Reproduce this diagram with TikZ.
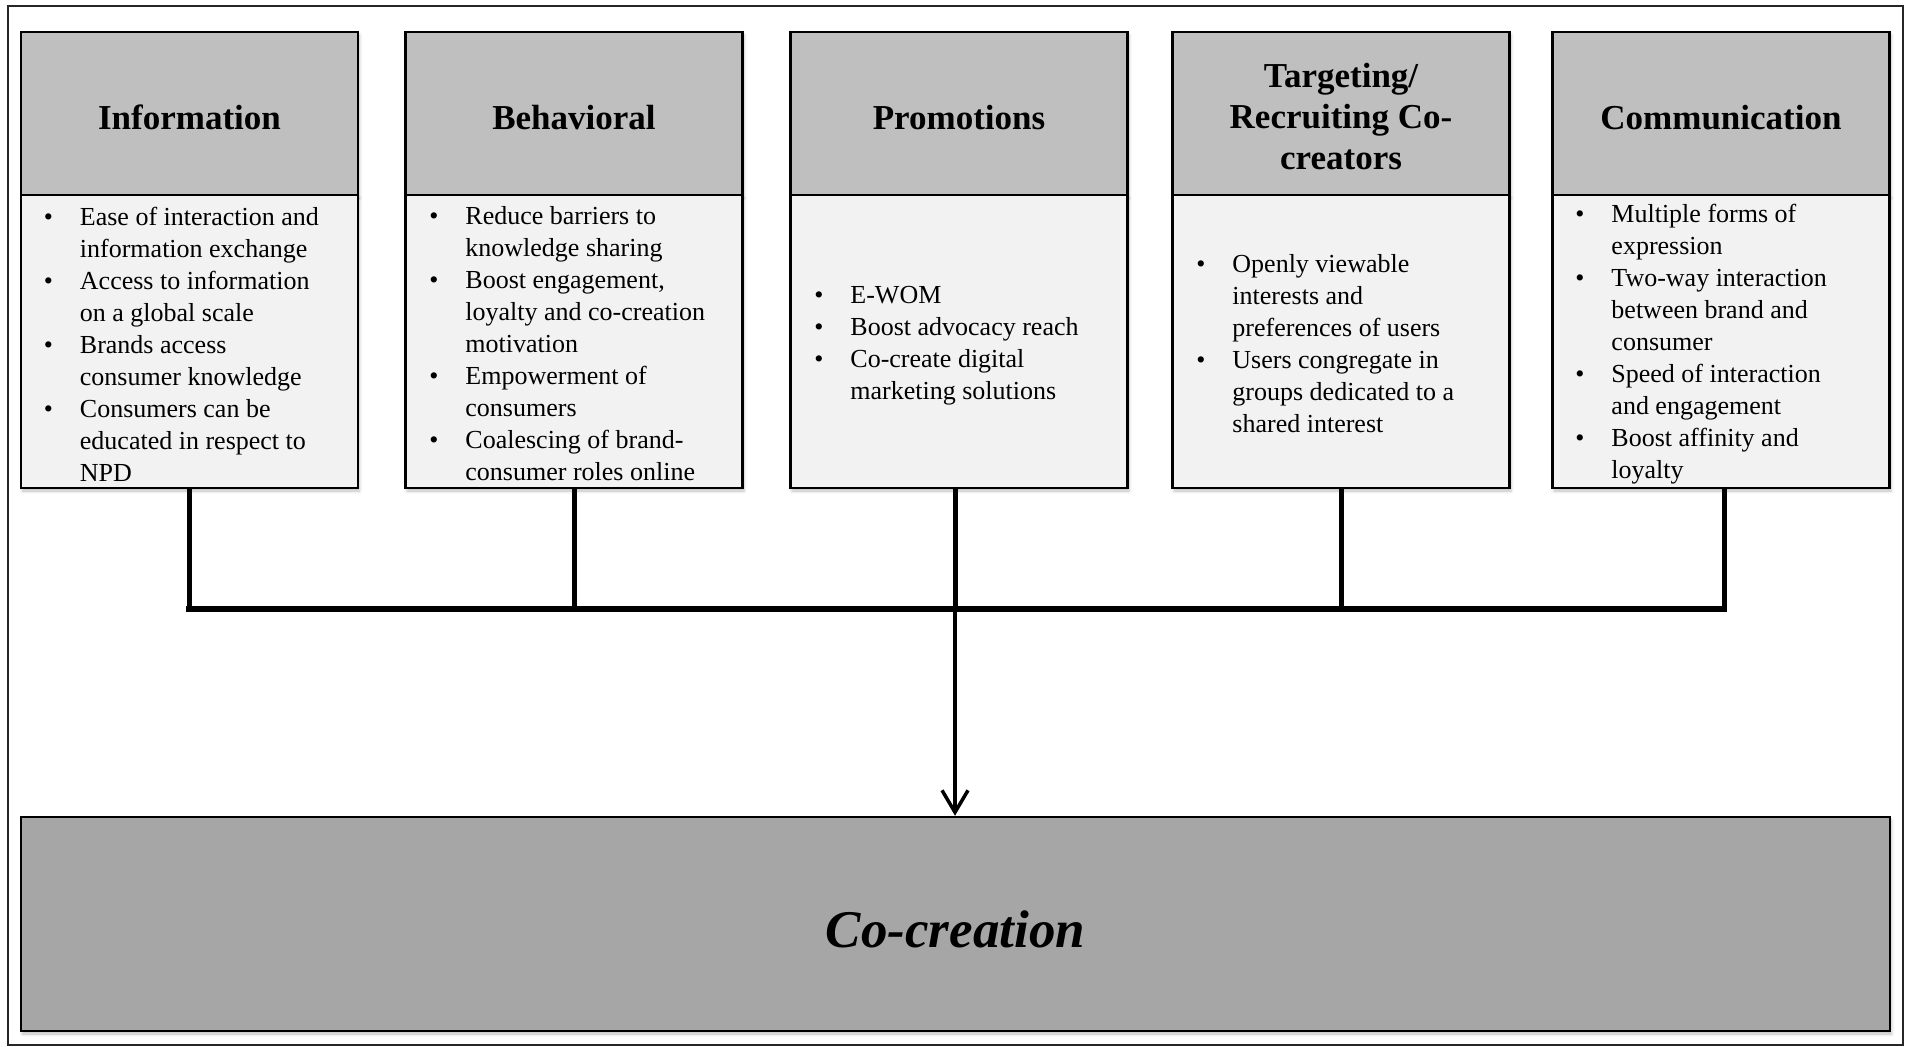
\documentclass[tikz,border=0pt]{standalone}
\usepackage{fontspec}
\setmainfont{Liberation Serif}
\usetikzlibrary{arrows.meta,shadows.blur}

\definecolor{hdrgray}{HTML}{BFBFBF}
\definecolor{bodygray}{HTML}{F2F2F2}
\definecolor{coregray}{HTML}{A6A6A6}

% bullet and continuation indent for the item lists
\newcommand{\bul}{\makebox[36pt][l]{\textbullet}}
\newcommand{\cont}{\hspace*{36pt}}

\begin{document}
\begin{tikzpicture}[x=1pt,y=-1pt,
  soft/.style={blur shadow={shadow xshift=1.5pt,shadow yshift=-3pt,shadow opacity=25,shadow blur radius=3pt}},
  boxline/.style={draw=black,line width=2.5pt},
  hdr/.style={boxline,soft,fill=hdrgray,minimum width=337pt,minimum height=163pt,inner sep=0pt},
  hdrtext/.style={inner sep=0pt,align=center,font=\fontsize{35}{41}\selectfont\bfseries},
  bodybox/.style={boxline,soft,fill=bodygray,minimum width=337pt,minimum height=293pt,inner sep=0pt},
  items/.style={anchor=west,align=left,inner sep=0pt,font=\fontsize{26}{32}\selectfont},
  stem/.style={line width=5pt},
  bus/.style={line width=6.5pt,line cap=rect},
  feed/.style={line width=4.5pt,-{Straight Barb[length=22pt,width=26pt,line width=3.5pt]}}
]
\useasboundingbox (0,0) rectangle (1907,1047);

% outer frame
\draw[line width=1.5pt,draw=black!85] (8,6) rectangle (1903,1045);

% category headers
\node[hdr] (h1) at (189.5,113.5) {};
\node[hdr] (h2) at (574,113.5) {};
\node[hdr] (h3) at (959,113.5) {};
\node[hdr] (h4) at (1341,113.5) {};
\node[hdr] (h5) at (1721,113.5) {};
\node[hdrtext] (l1) at ([yshift=-4pt]h1.center) {Information};
\node[hdrtext] (l2) at ([yshift=-4pt]h2.center) {Behavioral};
\node[hdrtext] (l3) at ([yshift=-4pt]h3.center) {Promotions};
\node[hdrtext] (l4) at ([yshift=-3pt]h4.center) {Targeting/\\Recruiting Co-\\creators};
\node[hdrtext] (l5) at ([yshift=-4pt]h5.center) {Communication};

% category bodies
\node[bodybox] (b1) at (189.5,341.5) {};
\node[bodybox] (b2) at (574,341.5) {};
\node[bodybox] (b3) at (959,341.5) {};
\node[bodybox] (b4) at (1341,341.5) {};
\node[bodybox] (b5) at (1721,341.5) {};

% item lists
\node[items] (t1) at ([xshift=24pt,yshift=-2.5pt]b1.west) {%
\bul Ease of interaction and\\
\cont information exchange\\
\bul Access to information\\
\cont on a global scale\\
\bul Brands access\\
\cont consumer knowledge\\
\bul Consumers can be\\
\cont educated in respect to\\
\cont NPD};
\node[items] (t2) at ([xshift=25pt,yshift=-2.5pt]b2.west) {%
\bul Reduce barriers to\\
\cont knowledge sharing\\
\bul Boost engagement,\\
\cont loyalty and co-creation\\
\cont motivation\\
\bul Empowerment of\\
\cont consumers\\
\bul Coalescing of brand-\\
\cont consumer roles online};
\node[items] (t3) at ([xshift=25pt,yshift=-4pt]b3.west) {%
\bul E-WOM\\
\bul Boost advocacy reach\\
\bul Co-create digital\\
\cont marketing solutions};
\node[items] (t4) at ([xshift=25pt,yshift=-2pt]b4.west) {%
\bul Openly viewable\\
\cont interests and\\
\cont preferences of users\\
\bul Users congregate in\\
\cont groups dedicated to a\\
\cont shared interest};
\node[items] (t5) at ([xshift=24pt,yshift=-2.5pt]b5.west) {%
\bul Multiple forms of\\
\cont expression\\
\bul Two-way interaction\\
\cont between brand and\\
\cont consumer\\
\bul Speed of interaction\\
\cont and engagement\\
\bul Boost affinity and\\
\cont loyalty};

% outcome box
\node[boxline,soft,fill=coregray,minimum width=1869pt,minimum height=214pt,inner sep=0pt] (co) at (955.5,924) {};
\node[inner sep=0pt,font=\fontsize{53}{60}\selectfont\bfseries\itshape] (cotext) at ([yshift=-5pt]co.center) {Co-creation};

% connectors
\coordinate (busy) at (0,609);
\coordinate (s1) at (b1.south);
\coordinate (s2) at (b2.south);
\coordinate (s3) at ([xshift=-4pt]b3.south);
\coordinate (s4) at (b4.south);
\coordinate (s5) at ([xshift=3pt]b5.south);
\foreach \s in {s1,s2,s3,s4,s5}
  \draw[stem] (\s) -- (\s |- busy);
\draw[bus] (s1 |- busy) -- (s5 |- busy);
\draw[feed] (s3) -- (s3 |- co.north);
\end{tikzpicture}
\end{document}
